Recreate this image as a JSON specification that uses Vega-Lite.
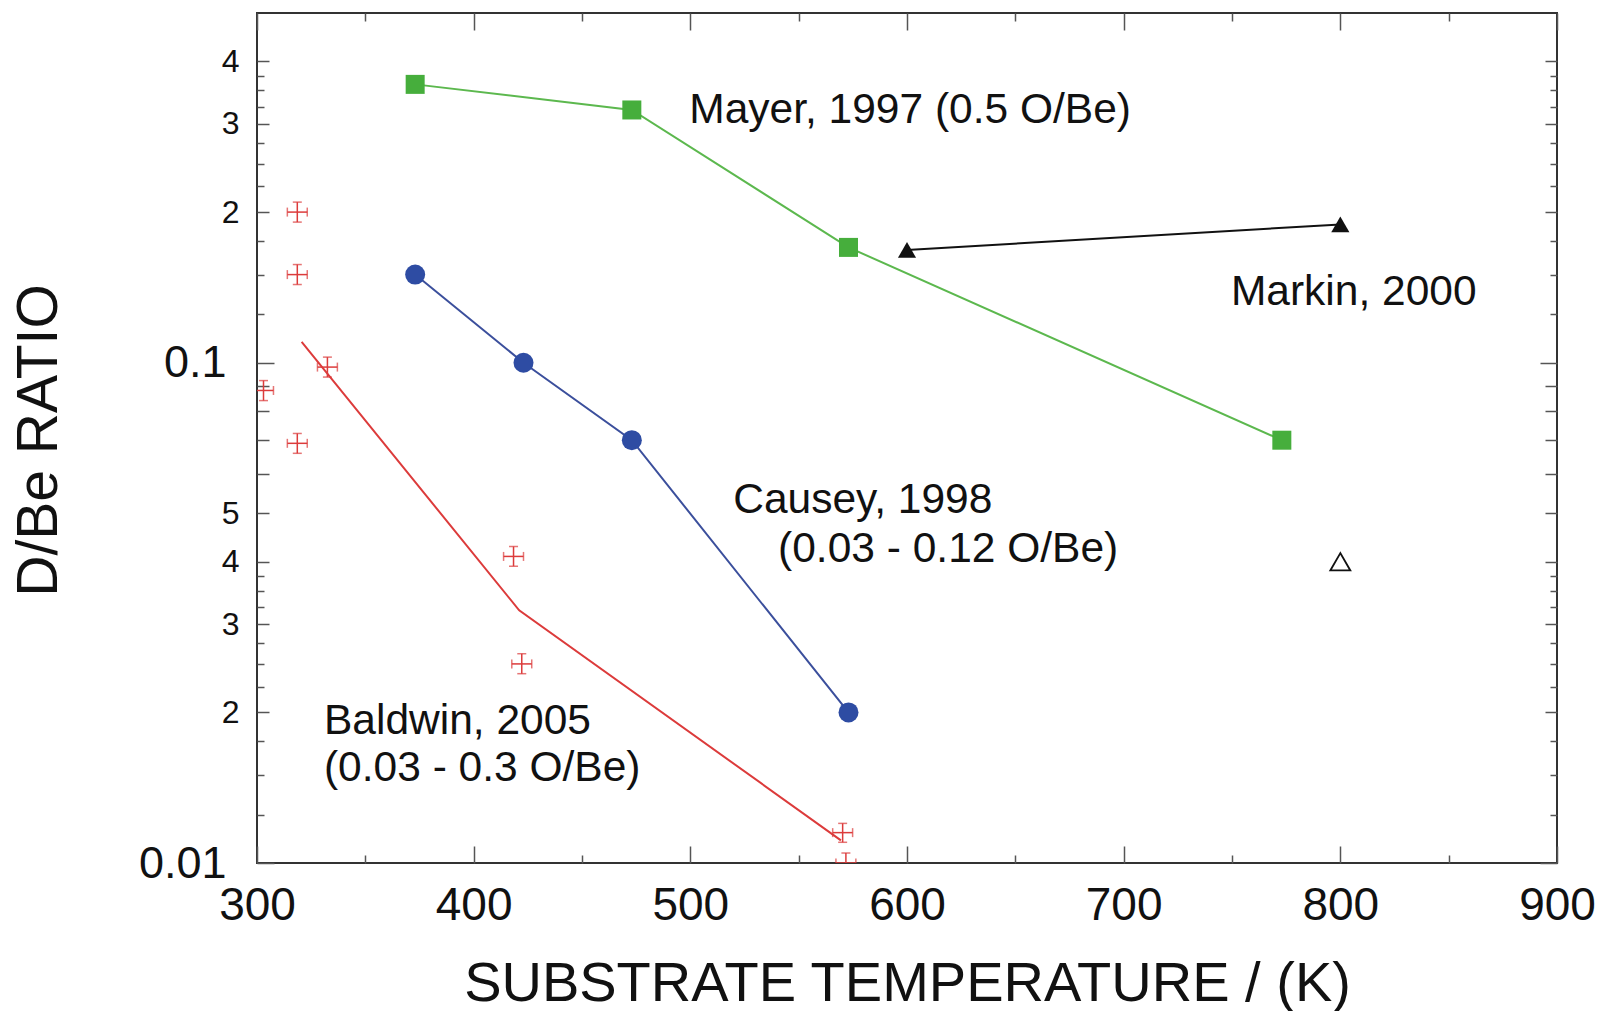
{
  "$schema": "https://vega.github.io/schema/vega-lite/v6.json",
  "width": 1300,
  "height": 850,
  "autosize": {"type": "none"},
  "padding": {"left": 257, "top": 13, "right": 44, "bottom": 148},
  "background": "white",
  "config": {
    "view": {"stroke": "#333333", "strokeWidth": 2},
    "font": "Liberation Sans",
    "axis": {
      "grid": false, "domain": false,
      "labelFont": "Liberation Sans", "titleFont": "Liberation Sans",
      "labelColor": "#111111", "titleColor": "#111111",
      "tickColor": "#555555", "tickWidth": 1.5,
      "labelFlush": false, "labelOverlap": false, "labelBound": false,
      "titleFontWeight": "normal"
    }
  },
  "resolve": {"axis": {"x": "independent", "y": "independent"}},
  "datasets": {
    "mayer": [
      {"T": 373, "r": 0.36}, {"T": 473, "r": 0.32}, {"T": 573, "r": 0.17}, {"T": 773, "r": 0.07}
    ],
    "markin": [
      {"T": 600, "r": 0.168}, {"T": 800, "r": 0.189}
    ],
    "markinOpen": [
      {"T": 800, "r": 0.04}
    ],
    "causey": [
      {"T": 373, "r": 0.15}, {"T": 423, "r": 0.1}, {"T": 473, "r": 0.07}, {"T": 573, "r": 0.02}
    ],
    "baldwinLine": [
      {"T": 320.6, "r": 0.110}, {"T": 421, "r": 0.032}, {"T": 569.5, "r": 0.0111}
    ],
    "baldwinPts": [
      {"T": 318.6, "r": 0.200, "Tlo": 314.0, "Thi": 323.2, "rlo": 0.191, "rhi": 0.2094},
      {"T": 318.6, "r": 0.150, "Tlo": 314.0, "Thi": 323.2, "rlo": 0.1433, "rhi": 0.1571},
      {"T": 332.5, "r": 0.098, "Tlo": 327.9, "Thi": 337.1, "rlo": 0.0936, "rhi": 0.1026},
      {"T": 303.0, "r": 0.088, "Tlo": 298.4, "Thi": 307.6, "rlo": 0.0840, "rhi": 0.0921},
      {"T": 318.6, "r": 0.069, "Tlo": 314.0, "Thi": 323.2, "rlo": 0.0659, "rhi": 0.0722},
      {"T": 418.4, "r": 0.041, "Tlo": 413.8, "Thi": 423.0, "rlo": 0.0392, "rhi": 0.0429},
      {"T": 422.2, "r": 0.025, "Tlo": 417.6, "Thi": 426.8, "rlo": 0.0239, "rhi": 0.0262},
      {"T": 570.3, "r": 0.0115, "Tlo": 565.7, "Thi": 574.9, "rlo": 0.0110, "rhi": 0.0120},
      {"T": 571.8, "r": 0.0100, "Tlo": 567.2, "Thi": 576.4, "rlo": 0.00955, "rhi": 0.01047}
    ],
    "labels": [
      {"T": 499.5, "r": 0.32, "text": "Mayer, 1997 (0.5 O/Be)"},
      {"T": 749.5, "r": 0.1387, "text": "Markin, 2000"},
      {"T": 519.8, "r": 0.0531, "text": "Causey, 1998"},
      {"T": 540.5, "r": 0.0424, "text": "(0.03 - 0.12 O/Be)"},
      {"T": 330.9, "r": 0.01923, "text": "Baldwin, 2005"},
      {"T": 330.9, "r": 0.01548, "text": "(0.03 - 0.3 O/Be)"}
    ]
  },
  "layer": [
    {
      "data": {"name": "mayer"},
      "mark": {"type": "line", "color": "#5cb84e", "strokeWidth": 2},
      "encoding": {
        "x": {"field": "T", "type": "quantitative",
              "scale": {"type": "linear", "domain": [300, 900], "nice": false, "zero": false},
              "axis": {"orient": "bottom", "values": [300, 400, 500, 600, 700, 800, 900], "format": "d",
                       "ticks": false, "labelFontSize": 46, "labelPadding": 20,
                       "title": "SUBSTRATE TEMPERATURE / (K)", "titleFontSize": 56,
                       "titleX": 650, "titleY": 137, "titleBaseline": "alphabetic"}},
        "y": {"field": "r", "type": "quantitative",
              "scale": {"type": "log", "domain": [0.01, 0.5], "nice": false},
              "axis": {"orient": "left", "values": [0.01, 0.1],
                       "labelExpr": "datum.value < 0.05 ? '0.01' : '0.1'",
                       "ticks": false, "labelFontSize": 45, "labelPadding": 31,
                       "title": "D/Be RATIO", "titleFontSize": 57, "titleAngle": -90,
                       "titleX": -201, "titleY": 427, "titleBaseline": "alphabetic"}}
      }
    },
    {
      "data": {"name": "mayer"},
      "mark": {"type": "point", "shape": "square", "filled": true, "size": 361, "color": "#46ae3c", "opacity": 1},
      "encoding": {
        "x": {"field": "T", "type": "quantitative",
              "scale": {"type": "linear", "domain": [300, 900], "nice": false, "zero": false},
              "axis": {"orient": "bottom", "values": [300, 400, 500, 600, 700, 800, 900],
                       "labels": false, "tickSize": -17, "title": null}},
        "y": {"field": "r", "type": "quantitative",
              "scale": {"type": "log", "domain": [0.01, 0.5], "nice": false},
              "axis": {"orient": "left", "values": [0.02, 0.03, 0.04, 0.05, 0.2, 0.3, 0.4],
                       "labelExpr": "round(datum.value * (datum.value < 0.1 ? 100 : 10))",
                       "ticks": false, "labelFontSize": 32, "labelPadding": 18, "title": null}}
      }
    },
    {
      "data": {"name": "markin"},
      "mark": {"type": "line", "color": "#111111", "strokeWidth": 2},
      "encoding": {
        "x": {"field": "T", "type": "quantitative",
              "scale": {"type": "linear", "domain": [300, 900], "nice": false, "zero": false},
              "axis": {"orient": "bottom", "values": [350, 450, 550, 650, 750, 850],
                       "labels": false, "tickSize": -8, "title": null}},
        "y": {"field": "r", "type": "quantitative",
              "scale": {"type": "log", "domain": [0.01, 0.5], "nice": false},
              "axis": {"orient": "left", "values": [0.01, 0.1],
                       "labels": false, "tickSize": -17, "title": null}}
      }
    },
    {
      "data": {"name": "markin"},
      "mark": {"type": "point", "shape": "triangle-up", "filled": true, "size": 330, "color": "#111111", "opacity": 1},
      "encoding": {
        "x": {"field": "T", "type": "quantitative",
              "scale": {"type": "linear", "domain": [300, 900], "nice": false, "zero": false},
              "axis": {"orient": "top", "values": [300, 400, 500, 600, 700, 800, 900],
                       "labels": false, "tickSize": -17, "title": null}},
        "y": {"field": "r", "type": "quantitative",
              "scale": {"type": "log", "domain": [0.01, 0.5], "nice": false},
              "axis": {"orient": "left", "values": [0.02, 0.03, 0.04, 0.05, 0.06, 0.07, 0.08, 0.09, 0.2, 0.3, 0.4],
                       "labels": false, "tickSize": -12, "title": null}}
      }
    },
    {
      "data": {"name": "markinOpen"},
      "mark": {"type": "point", "shape": "triangle-up", "filled": false, "size": 400, "stroke": "#111111", "strokeWidth": 1.8, "opacity": 1},
      "encoding": {
        "x": {"field": "T", "type": "quantitative",
              "scale": {"type": "linear", "domain": [300, 900], "nice": false, "zero": false},
              "axis": {"orient": "top", "values": [350, 450, 550, 650, 750, 850],
                       "labels": false, "tickSize": -8, "title": null}},
        "y": {"field": "r", "type": "quantitative",
              "scale": {"type": "log", "domain": [0.01, 0.5], "nice": false},
              "axis": {"orient": "left", "values": [0.0125, 0.015, 0.0175, 0.0225, 0.025, 0.0275, 0.0325, 0.035, 0.0375, 0.125, 0.15, 0.175, 0.225, 0.25, 0.275, 0.325, 0.35, 0.375],
                       "labels": false, "tickSize": -7, "title": null}}
      }
    },
    {
      "data": {"name": "causey"},
      "mark": {"type": "line", "color": "#3b4f9c", "strokeWidth": 2},
      "encoding": {
        "x": {"field": "T", "type": "quantitative",
              "scale": {"type": "linear", "domain": [300, 900], "nice": false, "zero": false},
              "axis": null},
        "y": {"field": "r", "type": "quantitative",
              "scale": {"type": "log", "domain": [0.01, 0.5], "nice": false},
              "axis": {"orient": "right", "values": [0.01, 0.1],
                       "labels": false, "tickSize": -17, "title": null}}
      }
    },
    {
      "data": {"name": "causey"},
      "mark": {"type": "point", "shape": "circle", "filled": true, "size": 400, "color": "#2e4ca3", "opacity": 1},
      "encoding": {
        "x": {"field": "T", "type": "quantitative",
              "scale": {"type": "linear", "domain": [300, 900], "nice": false, "zero": false},
              "axis": null},
        "y": {"field": "r", "type": "quantitative",
              "scale": {"type": "log", "domain": [0.01, 0.5], "nice": false},
              "axis": {"orient": "right", "values": [0.02, 0.03, 0.04, 0.05, 0.06, 0.07, 0.08, 0.09, 0.2, 0.3, 0.4],
                       "labels": false, "tickSize": -12, "title": null}}
      }
    },
    {
      "data": {"name": "baldwinLine"},
      "mark": {"type": "line", "color": "#dc3b3b", "strokeWidth": 2},
      "encoding": {
        "x": {"field": "T", "type": "quantitative",
              "scale": {"type": "linear", "domain": [300, 900], "nice": false, "zero": false},
              "axis": null},
        "y": {"field": "r", "type": "quantitative",
              "scale": {"type": "log", "domain": [0.01, 0.5], "nice": false},
              "axis": {"orient": "right", "values": [0.0125, 0.015, 0.0175, 0.0225, 0.025, 0.0275, 0.0325, 0.035, 0.0375, 0.125, 0.15, 0.175, 0.225, 0.25, 0.275, 0.325, 0.35, 0.375],
                       "labels": false, "tickSize": -7, "title": null}}
      }
    },
    {
      "data": {"name": "baldwinPts"},
      "mark": {"type": "errorbar", "ticks": {"size": 9}, "thickness": 1.5, "color": "#dc3b3b", "clip": true},
      "encoding": {
        "x": {"field": "Tlo", "type": "quantitative",
              "scale": {"type": "linear", "domain": [300, 900], "nice": false, "zero": false},
              "axis": null},
        "x2": {"field": "Thi"},
        "y": {"field": "r", "type": "quantitative",
              "scale": {"type": "log", "domain": [0.01, 0.5], "nice": false},
              "axis": null}
      }
    },
    {
      "data": {"name": "baldwinPts"},
      "mark": {"type": "errorbar", "ticks": {"size": 9}, "thickness": 1.5, "color": "#dc3b3b", "clip": true},
      "encoding": {
        "x": {"field": "T", "type": "quantitative",
              "scale": {"type": "linear", "domain": [300, 900], "nice": false, "zero": false},
              "axis": null},
        "y": {"field": "rlo", "type": "quantitative",
              "scale": {"type": "log", "domain": [0.01, 0.5], "nice": false},
              "axis": null},
        "y2": {"field": "rhi"}
      }
    },
    {
      "data": {"name": "labels"},
      "mark": {"type": "text", "align": "left", "baseline": "middle", "fontSize": 42.5, "font": "Liberation Sans", "color": "#111111"},
      "encoding": {
        "x": {"field": "T", "type": "quantitative",
              "scale": {"type": "linear", "domain": [300, 900], "nice": false, "zero": false},
              "axis": null},
        "y": {"field": "r", "type": "quantitative",
              "scale": {"type": "log", "domain": [0.01, 0.5], "nice": false},
              "axis": null},
        "text": {"field": "text", "type": "nominal"}
      }
    }
  ]
}
